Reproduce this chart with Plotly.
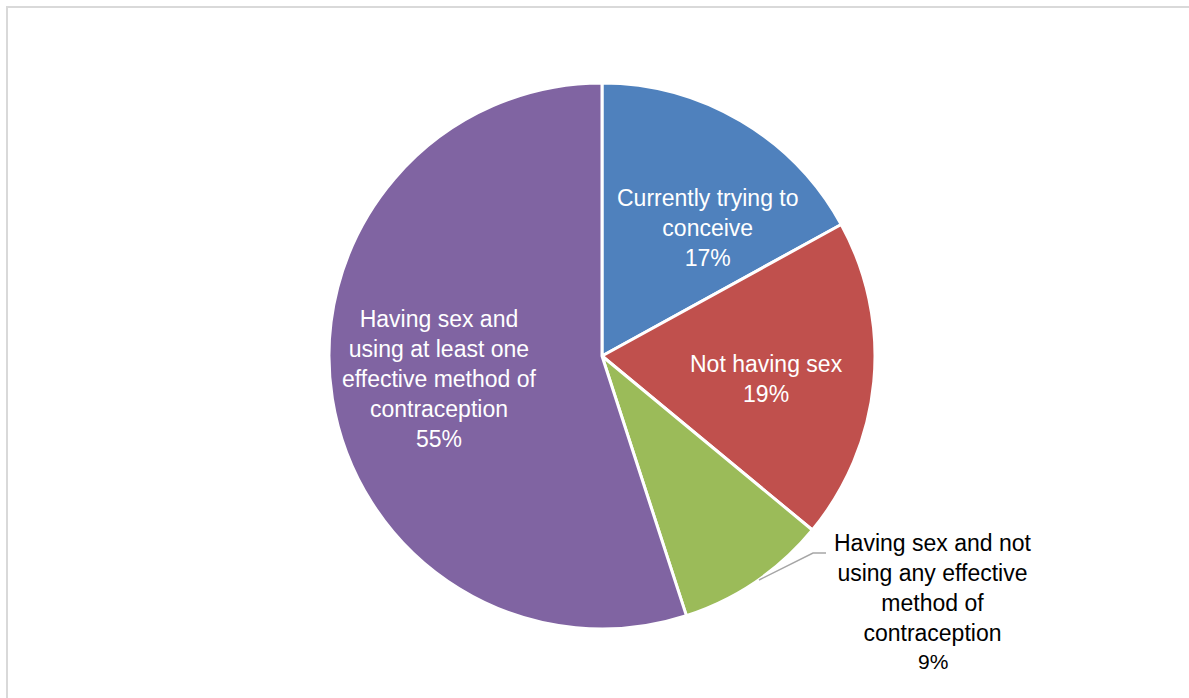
import plotly.graph_objects as go

W, H = 1189, 698

# Survey shares (percent)
categories = [
    "Currently trying to conceive",
    "Not having sex",
    "Having sex and not using any effective method of contraception",
    "Having sex and using at least one effective method of contraception",
]
label_lines = [
    ["Currently trying to", "conceive"],
    ["Not having sex"],
    ["Having sex and not", "using any effective", "method of", "contraception"],
    ["Having sex and", "using at least one", "effective method of", "contraception"],
]
shares = [17, 19, 9, 55]
colors = ["#4F81BD", "#C0504D", "#9BBB59", "#8064A2"]


def px_x(x):
    return x / W


def px_y(y):
    return 1 - y / H


# pie placement (pixels): centre (602, 356), radius 272
cx, cy, r = 602, 356, 273

fig = go.Figure(
    go.Pie(
        labels=categories,
        values=shares,
        sort=False,
        direction="clockwise",
        rotation=0,
        marker=dict(colors=colors, line=dict(color="white", width=3)),
        textinfo="none",
        hoverinfo="label+percent",
        showlegend=False,
        domain=dict(
            x=[px_x(cx - r), px_x(cx + r)],
            y=[px_y(cy + r), px_y(cy - r)],
        ),
    )
)

font_main = dict(family="Liberation Sans, Arial, sans-serif", size=23)

# label anchor positions (pixels) and text colours per slice
label_pos = [(708, 228), (766, 379), (933, 588), (440, 379)]
label_color = ["white", "white", "black", "white"]

annotations = []
for i, (lines, val, (lx, ly), col) in enumerate(zip(label_lines, shares, label_pos, label_color)):
    if i == 2:
        # outside label: category text, then the share on its own line a little lower
        annotations.append(dict(
            x=px_x(lx), y=px_y(ly), xref="paper", yref="paper",
            text="<br>".join(lines), showarrow=False,
            xanchor="center", yanchor="middle", align="center",
            font=dict(font_main, color=col),
        ))
        annotations.append(dict(
            x=px_x(lx), y=px_y(661), xref="paper", yref="paper",
            text=f"{val}%", showarrow=False,
            xanchor="center", yanchor="middle",
            font=dict(font_main, color=col, size=21),
        ))
    else:
        annotations.append(dict(
            x=px_x(lx), y=px_y(ly), xref="paper", yref="paper",
            text="<br>".join(lines + [f"{val}%"]), showarrow=False,
            xanchor="center", yanchor="middle", align="center",
            font=dict(font_main, color=col),
        ))

shapes = [
    # chart-area frame
    dict(type="rect", xref="paper", yref="paper",
         x0=px_x(7), x1=px_x(1200), y0=px_y(710), y1=px_y(7),
         line=dict(color="#D9D9D9", width=2), fillcolor="rgba(0,0,0,0)", layer="below"),
    # leader line for the outside label
    dict(type="path", xref="paper", yref="paper",
         path=f"M {px_x(759)},{px_y(580)} L {px_x(813)},{px_y(553)} L {px_x(826)},{px_y(553)}",
         line=dict(color="#A6A6A6", width=1.5)),
]

fig.update_layout(
    width=W, height=H,
    margin=dict(l=0, r=0, t=0, b=0),
    paper_bgcolor="white",
    plot_bgcolor="white",
    annotations=annotations,
    shapes=shapes,
)

fig.write_html("out.html")
